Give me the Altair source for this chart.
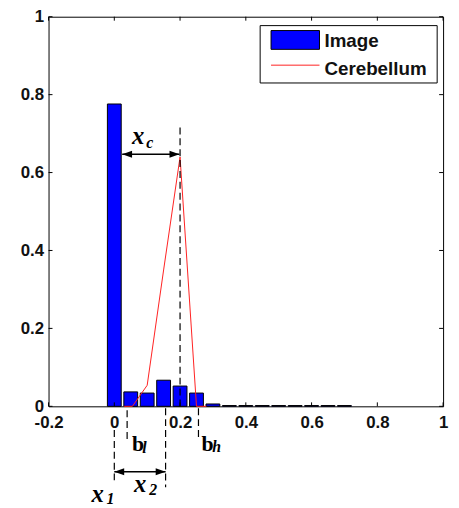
import altair as alt
import pandas as pd

# ---- data ----
bin_centers = [0.0, 0.05, 0.10, 0.15, 0.20, 0.25, 0.30, 0.35, 0.40, 0.45, 0.50, 0.55, 0.60, 0.65, 0.70]
image_values = [0.776, 0.037, 0.034, 0.067, 0.052, 0.034, 0.006, 0.002, 0.002, 0.002, 0.002, 0.002, 0.002, 0.002, 0.002]
bar_half_width = 0.021

cereb_x = [0.03, 0.055, 0.10, 0.15, 0.20, 0.25, 0.28]
cereb_y = [0.0, 0.0, 0.054, 0.35, 0.64, 0.0, 0.0]

x_ticks = [-0.2, 0.0, 0.2, 0.4, 0.6, 0.8, 1.0]
y_ticks = [0.0, 0.2, 0.4, 0.6, 0.8, 1.0]

# annotation geometry (data units)
dash_x = [0.2, 0.0, 0.039, 0.156, 0.256]
dash_y = [0.0, -0.061, -0.010, -0.005, -0.005]
dash_y2 = [0.718, -0.190, -0.089, -0.208, -0.081]

arrow_x = [0.024, 0.0]
arrow_x2 = [0.198, 0.156]
arrow_y = [0.647, -0.168]

x_txt = ["x", "x", "x"]
x_txt_x = [0.054, 0.060, -0.069]
x_txt_y = [0.673, -0.221, -0.246]
b_txt = ["b", "b"]
b_txt_x = [0.054, 0.265]
b_txt_y = [-0.114, -0.114]
sub_txt = ["c", "2", "1", "l", "h"]
sub_x = [0.097, 0.106, -0.024, 0.085, 0.298]
sub_y = [0.662, -0.228, -0.251, -0.119, -0.117]

legend_labels = ["Image", "Cerebellum"]

W, H = 399, 394
xs = alt.Scale(domain=[-0.2, 1.0], nice=False, zero=False)
ys = alt.Scale(domain=[0.0, 1.0], nice=False, zero=False)

bars = pd.DataFrame({"c": bin_centers, "v": image_values})
curve = pd.DataFrame({"x": cereb_x, "y": cereb_y})
dashes = pd.DataFrame({"x": dash_x, "y": dash_y, "y2": dash_y2})
arrows = pd.DataFrame({"x": arrow_x, "x2": arrow_x2, "y": arrow_y})
xtxt = pd.DataFrame({"t": x_txt, "x": x_txt_x, "y": x_txt_y})
btxt = pd.DataFrame({"t": b_txt, "x": b_txt_x, "y": b_txt_y})
subs = pd.DataFrame({"t": sub_txt, "x": sub_x, "y": sub_y})
xt = pd.DataFrame({"t": x_ticks})
yt = pd.DataFrame({"t": y_ticks})

tick_len_x = 4 / W * 1.2
tick_len_y = 4 / H

xaxis = alt.Axis(values=x_ticks, labelExpr="toString(round(datum.value*10)/10)",
                 title=None, domain=False, ticks=False, grid=False,
                 labelFont="Liberation Sans", labelFontSize=17, labelFontWeight="bold",
                 labelColor="#111111",
                 labelPadding=8, labelFlush=False, labelOverlap=False, labelBound=False)
yaxis = alt.Axis(values=y_ticks, labelExpr="toString(round(datum.value*10)/10)",
                 title=None, domain=False, ticks=False, grid=False,
                 labelFont="Liberation Sans", labelFontSize=17, labelFontWeight="bold",
                 labelColor="#111111",
                 labelPadding=5, labelOverlap=False, labelBound=False)

bar_layer = alt.Chart(bars).transform_calculate(
    x0=f"datum.c - {bar_half_width}", x1=f"datum.c + {bar_half_width}"
).mark_bar(fill="#0000ff", stroke="black", strokeWidth=1).encode(
    x=alt.X("x0:Q", scale=xs, axis=xaxis),
    x2="x1:Q",
    y=alt.Y("v:Q", scale=ys, axis=yaxis),
    y2=alt.datum(0),
)

line_layer = alt.Chart(curve).mark_line(color="#ff2020", strokeWidth=1).encode(
    x=alt.X("x:Q", scale=xs), y=alt.Y("y:Q", scale=ys)
)

dash_layer = alt.Chart(dashes).mark_rule(color="black", strokeWidth=1.2, strokeDash=[7, 4]).encode(
    x=alt.X("x:Q", scale=xs), y=alt.Y("y:Q", scale=ys), y2="y2:Q"
)

shaft_layer = alt.Chart(arrows).mark_rule(color="black", strokeWidth=1.5).encode(
    x=alt.X("x:Q", scale=xs), x2="x2:Q", y=alt.Y("y:Q", scale=ys)
)
head_left = alt.Chart(arrows).mark_point(
    shape="M0,0L2,-0.7L2,0.7Z", filled=True, fill="black", strokeWidth=0, size=100, opacity=1
).encode(x=alt.X("x:Q", scale=xs), y=alt.Y("y:Q", scale=ys))
head_right = alt.Chart(arrows).mark_point(
    shape="M0,0L-2,-0.7L-2,0.7Z", filled=True, fill="black", strokeWidth=0, size=100, opacity=1
).encode(x=alt.X("x2:Q", scale=xs), y=alt.Y("y:Q", scale=ys))

x_text = alt.Chart(xtxt).mark_text(
    font="Liberation Serif", fontSize=25, fontWeight="bold", fontStyle="italic",
    align="left", baseline="alphabetic", color="black"
).encode(x=alt.X("x:Q", scale=xs), y=alt.Y("y:Q", scale=ys), text="t:N")
b_text = alt.Chart(btxt).mark_text(
    font="Liberation Serif", fontSize=22, fontWeight="bold",
    align="left", baseline="alphabetic", color="black"
).encode(x=alt.X("x:Q", scale=xs), y=alt.Y("y:Q", scale=ys), text="t:N")
sub_text = alt.Chart(subs).mark_text(
    font="Liberation Serif", fontSize=16, fontWeight="bold", fontStyle="italic",
    align="left", baseline="alphabetic", color="black"
).encode(x=alt.X("x:Q", scale=xs), y=alt.Y("y:Q", scale=ys), text="t:N")

# inward ticks on all four sides
tb = alt.Chart(xt).transform_calculate(b0="0", b1=str(tick_len_y), t0="1", t1=str(1 - tick_len_y))
bottom_ticks = tb.mark_rule(color="black", strokeWidth=1).encode(
    x=alt.X("t:Q", scale=xs), y=alt.Y("b0:Q", scale=ys), y2="b1:Q")
top_ticks = tb.mark_rule(color="black", strokeWidth=1).encode(
    x=alt.X("t:Q", scale=xs), y=alt.Y("t0:Q", scale=ys), y2="t1:Q")
lr = alt.Chart(yt).transform_calculate(l0="-0.2", l1=str(-0.2 + tick_len_x), r0="1", r1=str(1 - tick_len_x))
left_ticks = lr.mark_rule(color="black", strokeWidth=1).encode(
    y=alt.Y("t:Q", scale=ys), x=alt.X("l0:Q", scale=xs), x2="l1:Q")
right_ticks = lr.mark_rule(color="black", strokeWidth=1).encode(
    y=alt.Y("t:Q", scale=ys), x=alt.X("r0:Q", scale=xs), x2="r1:Q")

# legend box (pixel placement inside the plot area)
one = pd.DataFrame({"a": [0]})
leg_box = alt.Chart(one).mark_rect(fill="white", stroke="black", strokeWidth=1).encode(
    x=alt.value(214), x2=alt.value(393), y=alt.value(9), y2=alt.value(67))
leg_patch = alt.Chart(one).mark_rect(fill="#0000ff", stroke="black", strokeWidth=1).encode(
    x=alt.value(225), x2=alt.value(274), y=alt.value(14), y2=alt.value(33))
leg_line = alt.Chart(one).mark_rule(color="#ff2020", strokeWidth=1).encode(
    x=alt.value(225), x2=alt.value(274), y=alt.value(49))
leg_t1 = alt.Chart(one).mark_text(
    text=legend_labels[0], font="Liberation Sans", fontSize=19, fontWeight="bold",
    align="left", baseline="alphabetic", color="#111111").encode(x=alt.value(279), y=alt.value(31))
leg_t2 = alt.Chart(one).mark_text(
    text=legend_labels[1], font="Liberation Sans", fontSize=19, fontWeight="bold",
    align="left", baseline="alphabetic", color="#111111").encode(x=alt.value(279), y=alt.value(59))

chart = alt.layer(
    bar_layer, line_layer, dash_layer, shaft_layer, head_left, head_right,
    x_text, b_text, sub_text, bottom_ticks, top_ticks, left_ticks, right_ticks,
    leg_box, leg_patch, leg_line, leg_t1, leg_t2
).properties(
    width=W, height=H,
    autosize=alt.AutoSizeParams(type="none"),
    padding={"left": 41, "top": 6, "right": 8, "bottom": 99},
    background="white",
).configure_view(stroke="black", strokeWidth=1)

chart.save("out.html", embed_options={"renderer": "svg", "actions": False})
